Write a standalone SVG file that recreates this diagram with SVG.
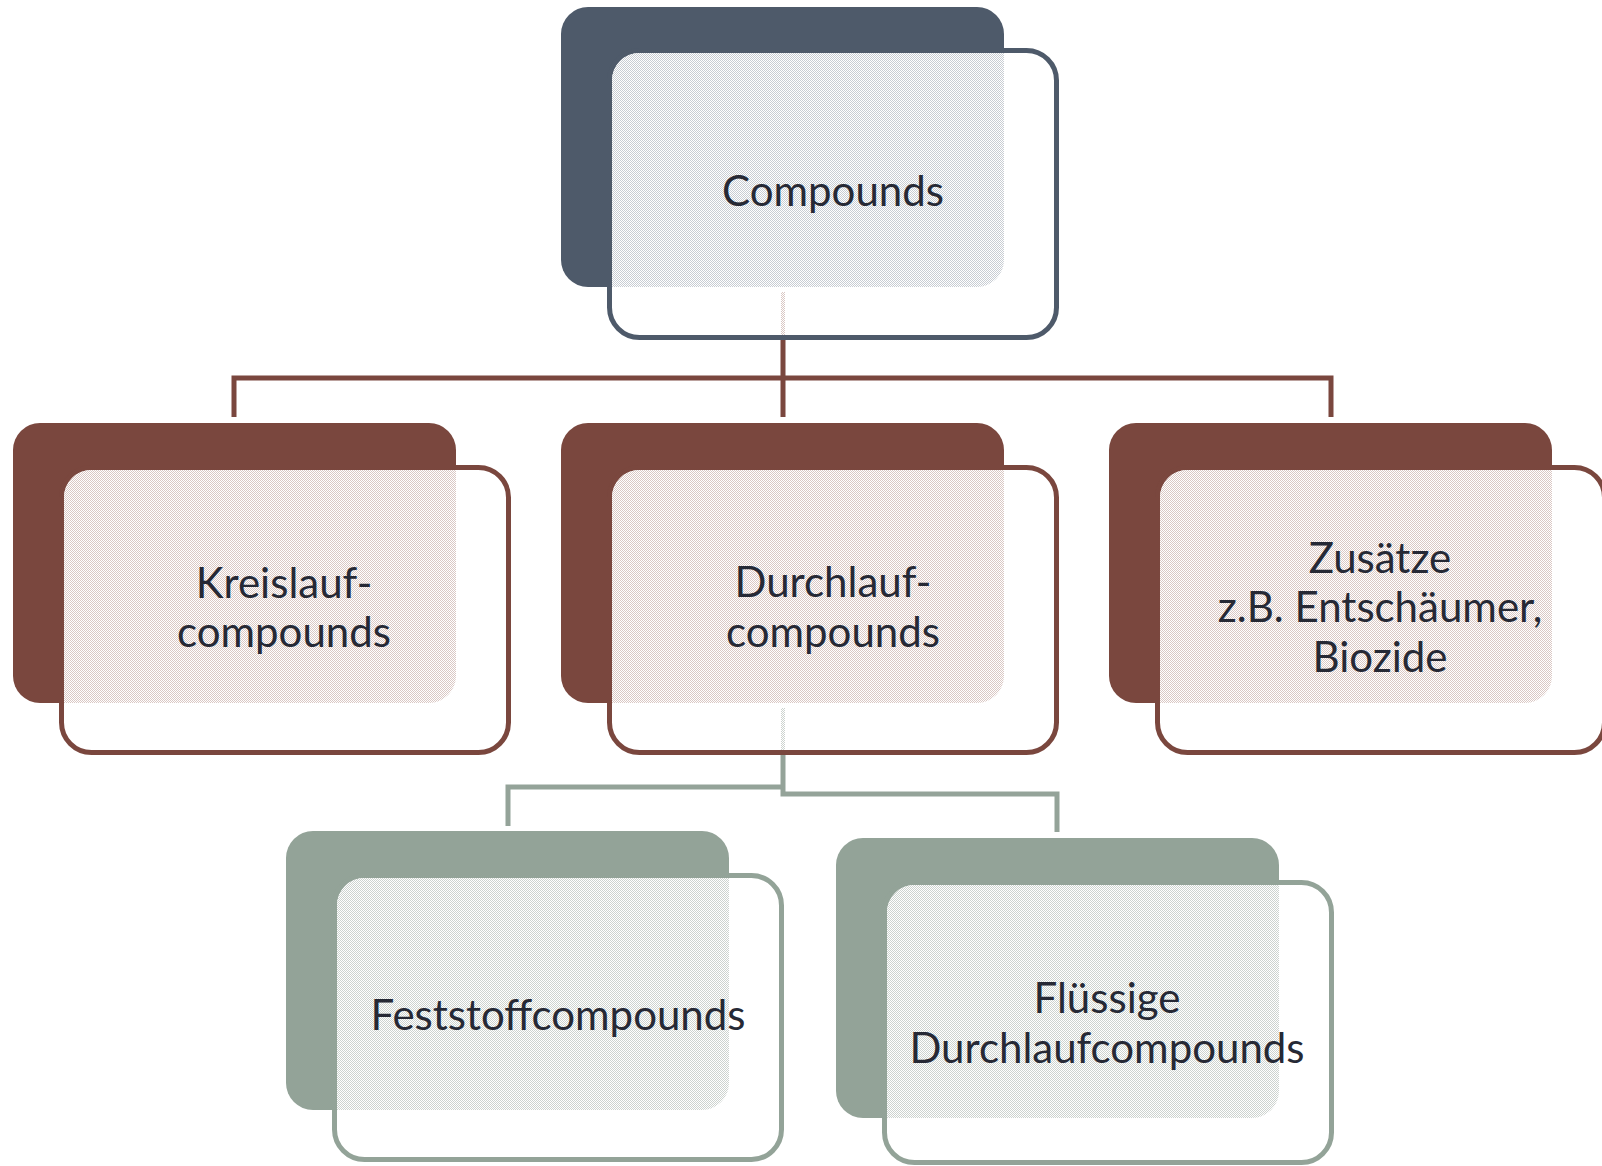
<svg xmlns="http://www.w3.org/2000/svg" width="1602" height="1166" viewBox="0 0 1602 1166">
<style>
.bgS{fill:#4e5a6a}.bgB{fill:#7a473e}.bgG{fill:#93a398}
.fr{fill:#fff;stroke-width:5}
.frS{stroke:#4e5a6a}.frB{stroke:#7a473e}.frG{stroke:#93a398}
.lbl{font-family:Lato,"Open Sans","Liberation Sans",sans-serif;font-size:42px;fill:#262935;text-anchor:middle}
.cB{fill:none;stroke:#7a473e;stroke-width:5;stroke-linejoin:miter;stroke-linecap:butt}
.cG{fill:none;stroke:#94a399;stroke-width:5;stroke-linejoin:miter;stroke-linecap:butt}
</style>
<defs>
<pattern id="pS" width="2" height="2" patternUnits="userSpaceOnUse"><rect width="2" height="2" fill="#fff"/><rect width="1" height="1" fill="#c8cdd3"/><rect x="1" y="1" width="1" height="1" fill="#c8cdd3"/></pattern>
<pattern id="pB" width="2" height="2" patternUnits="userSpaceOnUse"><rect width="2" height="2" fill="#fff"/><rect width="1" height="1" fill="#dac8c4"/><rect x="1" y="1" width="1" height="1" fill="#dac8c4"/></pattern>
<pattern id="pG" width="2" height="2" patternUnits="userSpaceOnUse"><rect width="2" height="2" fill="#fff"/><rect width="1" height="1" fill="#cdd3cf"/><rect x="1" y="1" width="1" height="1" fill="#cdd3cf"/></pattern>
<clipPath id="c1"><rect x="612" y="53" width="442" height="282" rx="27.5"/></clipPath>
<clipPath id="c2"><rect x="64" y="470" width="442" height="280" rx="27.5"/></clipPath>
<clipPath id="c3"><rect x="612" y="470" width="442" height="280" rx="27.5"/></clipPath>
<clipPath id="c4"><rect x="1160" y="470" width="442" height="280" rx="27.5"/></clipPath>
<clipPath id="c5"><rect x="337" y="878" width="442" height="279" rx="27.5"/></clipPath>
<clipPath id="c6"><rect x="887" y="885" width="442" height="275" rx="27.5"/></clipPath>
</defs>
<rect width="1602" height="1166" fill="#fff"/>

<g id="connectors">
<path class="cB" d="M783,338 V378 H234 V417 M783,378 H1331 V417 M783,378 V417"/>
<path class="cG" d="M783,753 V787 H508 V826 M783,787 V794 H1057 V832"/>
</g>

<g id="node-compounds">
<rect class="bgS" x="561" y="7" width="443" height="280" rx="27"/>
<rect class="fr frS" x="609.5" y="50.5" width="447" height="287" rx="30"/>
<rect x="561" y="7" width="443" height="280" rx="27" fill="url(#pS)" clip-path="url(#c1)"/>
<rect x="781" y="292" width="4" height="43" fill="url(#pB)"/>
<text class="lbl" x="833" y="206">Compounds</text>
</g>

<g id="node-kreislauf">
<rect class="bgB" x="13" y="423" width="443" height="280" rx="27"/>
<rect class="fr frB" x="61.5" y="467.5" width="447" height="285" rx="30"/>
<rect x="13" y="423" width="443" height="280" rx="27" fill="url(#pB)" clip-path="url(#c2)"/>
<text class="lbl" x="284" y="598">Kreislauf-</text>
<text class="lbl" x="284" y="647">compounds</text>
</g>

<g id="node-durchlauf">
<rect class="bgB" x="561" y="423" width="443" height="280" rx="27"/>
<rect class="fr frB" x="609.5" y="467.5" width="447" height="285" rx="30"/>
<rect x="561" y="423" width="443" height="280" rx="27" fill="url(#pB)" clip-path="url(#c3)"/>
<rect x="781" y="708" width="4" height="42" fill="url(#pG)"/>
<text class="lbl" x="833" y="597">Durchlauf-</text>
<text class="lbl" x="833" y="647">compounds</text>
</g>

<g id="node-zusaetze">
<rect class="bgB" x="1109" y="423" width="443" height="280" rx="27"/>
<rect class="fr frB" x="1157.5" y="467.5" width="447" height="285" rx="30"/>
<rect x="1109" y="423" width="443" height="280" rx="27" fill="url(#pB)" clip-path="url(#c4)"/>
<text class="lbl" x="1380" y="573">Zusätze</text>
<text class="lbl" x="1380" y="622">z.B. Entschäumer,</text>
<text class="lbl" x="1380" y="672">Biozide</text>
</g>

<g id="node-feststoff">
<rect class="bgG" x="286" y="831" width="443" height="279" rx="27"/>
<rect class="fr frG" x="334.5" y="875.5" width="447" height="284" rx="30"/>
<rect x="286" y="831" width="443" height="279" rx="27" fill="url(#pG)" clip-path="url(#c5)"/>
<text class="lbl" x="558" y="1030">Feststoffcompounds</text>
</g>

<g id="node-fluessig">
<rect class="bgG" x="836" y="838" width="443" height="280" rx="27"/>
<rect class="fr frG" x="884.5" y="882.5" width="447" height="280" rx="30"/>
<rect x="836" y="838" width="443" height="280" rx="27" fill="url(#pG)" clip-path="url(#c6)"/>
<text class="lbl" x="1107" y="1013">Flüssige</text>
<text class="lbl" x="1107" y="1063">Durchlaufcompounds</text>
</g>
</svg>
